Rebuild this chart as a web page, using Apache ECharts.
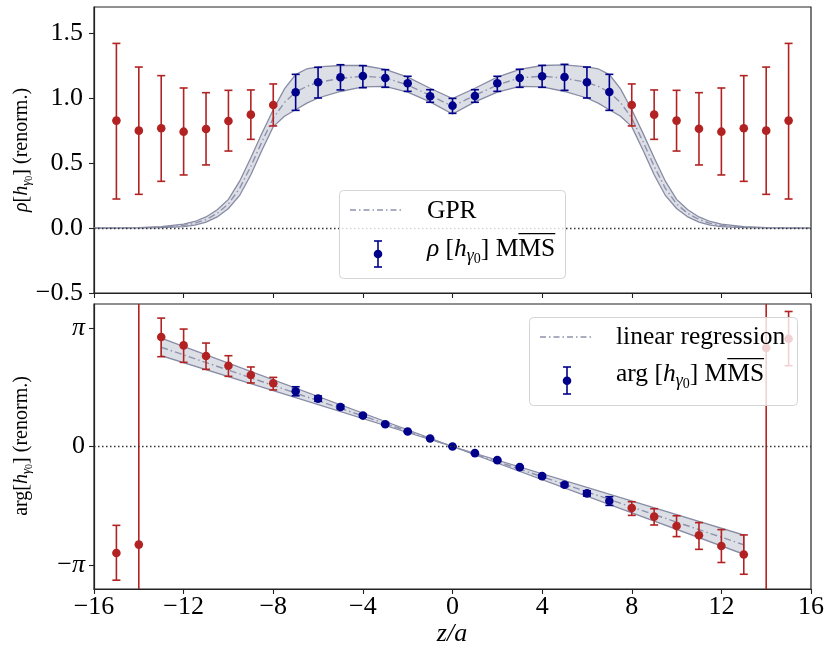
<!DOCTYPE html>
<html><head><meta charset="utf-8">
<script src="https://cdn.jsdelivr.net/npm/echarts@6/dist/echarts.min.js"></script>
<style>html,body{margin:0;padding:0;background:#fff}#c{width:831px;height:659px}</style>
</head><body><div id="c"></div>
<script>
// ---------- data ----------
const xTicks = [-16, -12, -8, -4, 0, 4, 8, 12, 16];
const rhoTicks = [-0.5, 0, 0.5, 1.0, 1.5];
const argTickValues = [-Math.PI, 0, Math.PI];
const argTickLabels = ['−{i|π}', '0', '{i|π}'];

// rho: outer (red) points
const zOuter = [-15, -14, -13, -12, -11, -10, -9, -8, 8, 9, 10, 11, 12, 13, 14, 15];
const rhoOuter = [0.826, 0.749, 0.767, 0.741, 0.762, 0.823, 0.872, 0.946, 0.946, 0.872, 0.826, 0.764, 0.741, 0.767, 0.749, 0.826];
const rhoOuterLo = [0.223, 0.259, 0.359, 0.408, 0.485, 0.592, 0.682, 0.785, 0.785, 0.682, 0.592, 0.485, 0.408, 0.359, 0.259, 0.223];
const rhoOuterHi = [1.42, 1.238, 1.172, 1.077, 1.041, 1.059, 1.062, 1.108, 1.108, 1.062, 1.059, 1.041, 1.077, 1.172, 1.238, 1.42];

// rho: inner (blue) points
const zInner = [-7, -6, -5, -4, -3, -2, -1, 0, 1, 2, 3, 4, 5, 6, 7];
const rhoInner = [1.044, 1.121, 1.159, 1.169, 1.154, 1.113, 1.013, 0.941, 1.015, 1.113, 1.154, 1.167, 1.162, 1.121, 1.046];
const rhoInnerLo = [0.905, 1.0, 1.062, 1.079, 1.082, 1.051, 0.967, 0.882, 0.967, 1.051, 1.082, 1.082, 1.059, 1.0, 0.905];
const rhoInnerHi = [1.182, 1.236, 1.256, 1.249, 1.218, 1.167, 1.064, 0.997, 1.064, 1.167, 1.221, 1.251, 1.259, 1.238, 1.182];

// GPR band
const gprZ = [-16, -15, -14, -13, -12, -11.5, -11, -10.5, -10, -9.5, -9, -8.5, -8, -7.5, -7, -6.5, -6, -5, -4, -3, -2, -1, 0,
  1, 2, 3, 4, 5, 6, 6.5, 7, 7.5, 8, 8.5, 9, 9.5, 10, 10.5, 11, 11.5, 12, 13, 14, 15, 16];
const gprUpper = [0, 0.001, 0.003, 0.01, 0.03, 0.05, 0.085, 0.14, 0.22, 0.36, 0.54, 0.73, 0.91, 1.07, 1.18, 1.225, 1.24, 1.25, 1.25, 1.22, 1.16, 1.075, 0.995,
  1.075, 1.16, 1.22, 1.25, 1.255, 1.24, 1.225, 1.18, 1.07, 0.91, 0.73, 0.54, 0.36, 0.22, 0.14, 0.085, 0.05, 0.03, 0.01, 0.003, 0.001, 0];
const gprMean = [0, 0.001, 0.002, 0.006, 0.02, 0.036, 0.065, 0.112, 0.185, 0.305, 0.475, 0.665, 0.845, 0.965, 1.045, 1.09, 1.12, 1.15, 1.168, 1.155, 1.1, 1.02, 0.936,
  1.02, 1.1, 1.155, 1.168, 1.152, 1.12, 1.09, 1.045, 0.965, 0.845, 0.665, 0.475, 0.305, 0.185, 0.112, 0.065, 0.036, 0.02, 0.006, 0.002, 0.001, 0];
const gprLower = [0, 0, 0.001, 0.003, 0.01, 0.022, 0.045, 0.085, 0.15, 0.25, 0.41, 0.6, 0.78, 0.86, 0.91, 0.96, 1.0, 1.05, 1.085, 1.09, 1.045, 0.97, 0.877,
  0.97, 1.045, 1.09, 1.085, 1.05, 1.0, 0.96, 0.91, 0.86, 0.78, 0.6, 0.41, 0.25, 0.15, 0.085, 0.045, 0.022, 0.01, 0.003, 0.001, 0, 0];

// arg: outer (red) points  (z = ±14 have error bars larger than the panel)
const argOuter = [-2.817, -2.596, 2.896, 2.675, 2.394, 2.138, 1.893, 1.672, -1.629, -1.856, -2.104, -2.350, -2.632, -2.859, 2.605, 2.852];
const argOuterLo = [-3.537, -60, 2.376, 2.226, 2.041, 1.856, 1.681, 1.496, -1.822, -2.077, -2.384, -2.721, -3.069, -3.380, -60, 2.138];
const argOuterHi = [-2.086, 60, 3.397, 3.107, 2.737, 2.402, 2.104, 1.829, -1.461, -1.646, -1.832, -2.014, -2.199, -2.340, 60, 3.572];

// arg: inner (blue) points
const argInner = [1.461, 1.267, 1.047, 0.818, 0.589, 0.396, 0.211, 0.0, -0.176, -0.361, -0.546, -0.784, -1.012, -1.241, -1.443];
const argInnerLo = [1.341, 1.197, 0.997, 0.778, 0.559, 0.376, 0.196, -0.01, -0.191, -0.381, -0.576, -0.824, -1.062, -1.311, -1.558];
const argInnerHi = [1.581, 1.337, 1.097, 0.858, 0.619, 0.416, 0.226, 0.01, -0.161, -0.341, -0.516, -0.744, -0.962, -1.171, -1.328];

// linear regression band
const regZ = [-13, 0, 13];
const regUpper = [2.869, 0, -2.342];
const regMean = [2.625, 0, -2.600];
const regLower = [2.403, 0, -2.850];

// ---------- styling ----------
const SERIF = '"Liberation Serif","DejaVu Serif",serif';
const RED = '#b22222', BLUE = '#00008b';
const BAND_FILL = '#dddfe7', BAND_EDGE = '#878ba4', MEAN_COL = '#8f93aa';
const TICK_FS = 26;

function zip() { const a = arguments; return a[0].map((_, i) => Array.from(a, arr => arr[i])); }

function bandItem(xs, up, lo) {
  return function (params, api) {
    if (params.dataIndex !== 0) return null;
    const pts = [];
    for (let i = 0; i < xs.length; i++) pts.push(api.coord([xs[i], up[i]]));
    for (let i = xs.length - 1; i >= 0; i--) pts.push(api.coord([xs[i], lo[i]]));
    return { type: 'polygon', shape: { points: pts }, style: { fill: BAND_FILL, stroke: BAND_EDGE, lineWidth: 1.3 } };
  };
}
function errItem(color) {
  return function (params, api) {
    const z = api.value(0), v = api.value(1), lo = api.value(2), hi = api.value(3);
    const cs = params.coordSys, top = cs.y, bot = cs.y + cs.height;
    const p = api.coord([z, v]), a = api.coord([z, hi]), b = api.coord([z, lo]);
    const yT = Math.max(a[1], top), yB = Math.min(b[1], bot);
    const st = { stroke: color, lineWidth: 1.6 };
    const ch = [{ type: 'line', shape: { x1: p[0], y1: yT, x2: p[0], y2: yB }, style: st }];
    if (a[1] >= top) ch.push({ type: 'line', shape: { x1: p[0] - 4, y1: a[1], x2: p[0] + 4, y2: a[1] }, style: st });
    if (b[1] <= bot) ch.push({ type: 'line', shape: { x1: p[0] - 4, y1: b[1], x2: p[0] + 4, y2: b[1] }, style: st });
    ch.push({ type: 'circle', shape: { cx: p[0], cy: p[1], r: 4.3 }, style: { fill: color } });
    return { type: 'group', children: ch };
  };
}

// text run helper for legend (measured with canvas)
const mctx = document.createElement('canvas').getContext('2d');
function measure(t, font) { mctx.font = font; return mctx.measureText(t).width; }
function textRun(x, cy, base, parts) {
  const els = []; let cx = x;
  for (const p of parts) {
    const size = p.sub ? base * (p.sub === 2 ? 0.55 : 0.7) : base;
    const font = (p.it ? 'italic ' : '') + size.toFixed(1) + 'px ' + SERIF;
    const y = cy + (p.sub === 1 ? base * 0.3 : p.sub === 2 ? base * 0.42 : 0);
    els.push({ type: 'text', x: cx, y: y, z: 60, style: { text: p.t, font: font, fill: '#000', align: 'left', verticalAlign: 'middle' } });
    const w = measure(p.t, font);
    if (p.over) els.push({ type: 'line', z: 60, shape: { x1: cx, y1: cy - base * 0.6, x2: cx + w, y2: cy - base * 0.6 }, style: { stroke: '#000', lineWidth: 1.2 } });
    cx += w;
  }
  return els;
}
function errIcon(x, y1, y2, cy) {
  const st = { stroke: BLUE, lineWidth: 1.6 };
  return [
    { type: 'line', z: 60, shape: { x1: x, y1: y1, x2: x, y2: y2 }, style: st },
    { type: 'line', z: 60, shape: { x1: x - 4, y1: y1, x2: x + 4, y2: y1 }, style: st },
    { type: 'line', z: 60, shape: { x1: x - 4, y1: y2, x2: x + 4, y2: y2 }, style: st },
    { type: 'circle', z: 60, shape: { cx: x, cy: cy, r: 4.3 }, style: { fill: BLUE } }
  ];
}
const LEG = 25.5;
const titleRich = {
  i: { fontStyle: 'italic', fontFamily: SERIF, fontSize: 20 },
  s: { fontStyle: 'italic', fontFamily: SERIF, fontSize: 13, padding: [10, 0, 0, 0] },
  s0: { fontFamily: SERIF, fontSize: 10, padding: [15, 0, 0, 0] }
};
const graphics = [].concat(
  // top legend
  [{ type: 'rect', z: 55, shape: { x: 339.5, y: 190.5, width: 226, height: 88, r: 4 }, style: { fill: 'rgba(255,255,255,0.8)', stroke: '#d4d4d4', lineWidth: 1 } },
   { type: 'line', z: 60, shape: { x1: 350, y1: 210, x2: 403, y2: 210 }, style: { stroke: MEAN_COL, lineWidth: 1.4, lineDash: [6, 3, 1.5, 3] } }],
  textRun(427, 211, LEG, [{ t: 'GPR' }]),
  errIcon(378, 241, 267, 254),
  textRun(427, 249, LEG, [{ t: 'ρ', it: 1 }, { t: ' [' }, { t: 'h', it: 1 }, { t: 'γ', it: 1, sub: 1 }, { t: '0', sub: 2 }, { t: '] M' }, { t: 'MS', over: 1 }]),
  // bottom legend
  [{ type: 'rect', z: 55, shape: { x: 529.5, y: 317.5, width: 268, height: 88, r: 4 }, style: { fill: 'rgba(255,255,255,0.8)', stroke: '#d4d4d4', lineWidth: 1 } },
   { type: 'line', z: 60, shape: { x1: 540, y1: 337, x2: 593, y2: 337 }, style: { stroke: MEAN_COL, lineWidth: 1.4, lineDash: [6, 3, 1.5, 3] } }],
  textRun(616, 337, LEG, [{ t: 'linear regression' }]),
  errIcon(567, 367, 394, 380.7),
  textRun(616, 374, LEG, [{ t: 'arg [' }, { t: 'h', it: 1 }, { t: 'γ', it: 1, sub: 1 }, { t: '0', sub: 2 }, { t: '] M' }, { t: 'MS', over: 1 }]),
  // axis titles
  [{ type: 'text', x: 22, y: 150, rotation: Math.PI / 2, z: 60,
     style: { text: '{i|ρ}[{i|h}{s|γ}{s0|0}] (renorm.)', font: '20px ' + SERIF, fill: '#000', align: 'center', verticalAlign: 'middle', rich: titleRich } },
   { type: 'text', x: 22, y: 446, rotation: Math.PI / 2, z: 60,
     style: { text: 'arg[{i|h}{s|γ}{s0|0}] (renorm.)', font: '20px ' + SERIF, fill: '#000', align: 'center', verticalAlign: 'middle', rich: titleRich } },
   { type: 'text', x: 452, y: 634, z: 60, style: { text: 'z/a', font: 'italic 26px ' + SERIF, fill: '#000', align: 'center', verticalAlign: 'middle' } }]
);

const axisCommon = {
  axisLine: { show: true, onZero: false, lineStyle: { color: '#222', width: 1.2 } },
  axisTick: { show: true, inside: false, length: 5, lineStyle: { color: '#222', width: 1.1 } },
  splitLine: { show: false }
};
const fmtNum = v => (v < 0 ? '−' : '') + Math.abs(v);
const option = {
  animation: false,
  backgroundColor: '#fff',
  grid: [
    { left: 94, right: 20, top: 7, height: 286, show: true, borderColor: '#222', borderWidth: 1.2, backgroundColor: 'transparent' },
    { left: 94, right: 20, top: 304, height: 285, show: true, borderColor: '#222', borderWidth: 1.2, backgroundColor: 'transparent' }
  ],
  xAxis: [
    Object.assign({ gridIndex: 0, type: 'value', min: xTicks[0], max: xTicks[xTicks.length - 1], interval: 4, axisLabel: { show: false } }, axisCommon),
    Object.assign({ gridIndex: 1, type: 'value', min: xTicks[0], max: xTicks[xTicks.length - 1], interval: 4,
      axisLabel: { show: true, fontFamily: SERIF, fontSize: TICK_FS, color: '#000', margin: 5, formatter: fmtNum } }, axisCommon)
  ],
  yAxis: [
    Object.assign({}, axisCommon, { gridIndex: 0, type: 'value', min: -0.5, max: 1.7, interval: 0.5,
      axisTick: { show: true, inside: false, length: 5, lineStyle: { color: '#222', width: 1.1 }, customValues: rhoTicks },
      axisLabel: { show: true, fontFamily: SERIF, fontSize: TICK_FS, color: '#000', margin: 11, customValues: rhoTicks,
        formatter: v => (v < 0 ? '−' : '') + Math.abs(v).toFixed(1) } }),
    Object.assign({}, axisCommon, { gridIndex: 1, type: 'value', min: -3.77, max: 3.77,
      axisTick: { show: true, inside: false, length: 5, lineStyle: { color: '#222', width: 1.1 }, customValues: argTickValues },
      axisLabel: { show: true, fontFamily: SERIF, fontSize: TICK_FS, color: '#000', margin: 9, customValues: argTickValues,
        formatter: v => argTickLabels[argTickValues.findIndex(t => Math.abs(t - v) < 1e-6)] || '',
        rich: { i: { fontStyle: 'italic', fontFamily: SERIF, fontSize: TICK_FS, color: '#000' } } } })
  ],
  series: [
    { type: 'custom', xAxisIndex: 0, yAxisIndex: 0, z: 1, silent: true, data: [[0, 0]], renderItem: bandItem(gprZ, gprUpper, gprLower) },
    { type: 'line', xAxisIndex: 0, yAxisIndex: 0, z: 2, silent: true, showSymbol: false, data: zip(gprZ, gprMean),
      lineStyle: { color: MEAN_COL, width: 1.4, type: [7, 3, 1.5, 3] },
      markLine: { silent: true, symbol: 'none', label: { show: false }, data: [{ yAxis: 0 }], lineStyle: { type: [1.5, 2.5], color: '#333', width: 1.3 } } },
    { type: 'custom', xAxisIndex: 0, yAxisIndex: 0, z: 3, data: zip(zOuter, rhoOuter, rhoOuterLo, rhoOuterHi), renderItem: errItem(RED) },
    { type: 'custom', xAxisIndex: 0, yAxisIndex: 0, z: 3, data: zip(zInner, rhoInner, rhoInnerLo, rhoInnerHi), renderItem: errItem(BLUE) },

    { type: 'custom', xAxisIndex: 1, yAxisIndex: 1, z: 1, silent: true, data: [[0, 0]], renderItem: bandItem(regZ, regUpper, regLower) },
    { type: 'line', xAxisIndex: 1, yAxisIndex: 1, z: 2, silent: true, showSymbol: false, data: zip(regZ, regMean),
      lineStyle: { color: MEAN_COL, width: 1.4, type: [7, 3, 1.5, 3] },
      markLine: { silent: true, symbol: 'none', label: { show: false }, data: [{ yAxis: 0 }], lineStyle: { type: [1.5, 2.5], color: '#333', width: 1.3 } } },
    { type: 'custom', xAxisIndex: 1, yAxisIndex: 1, z: 3, data: zip(zOuter, argOuter, argOuterLo, argOuterHi), renderItem: errItem(RED) },
    { type: 'custom', xAxisIndex: 1, yAxisIndex: 1, z: 3, data: zip(zInner, argInner, argInnerLo, argInnerHi), renderItem: errItem(BLUE) }
  ],
  graphic: { elements: graphics }
};
const chart = echarts.init(document.getElementById('c'), null, { renderer: 'canvas' });
chart.setOption(option);
</script></body></html>
